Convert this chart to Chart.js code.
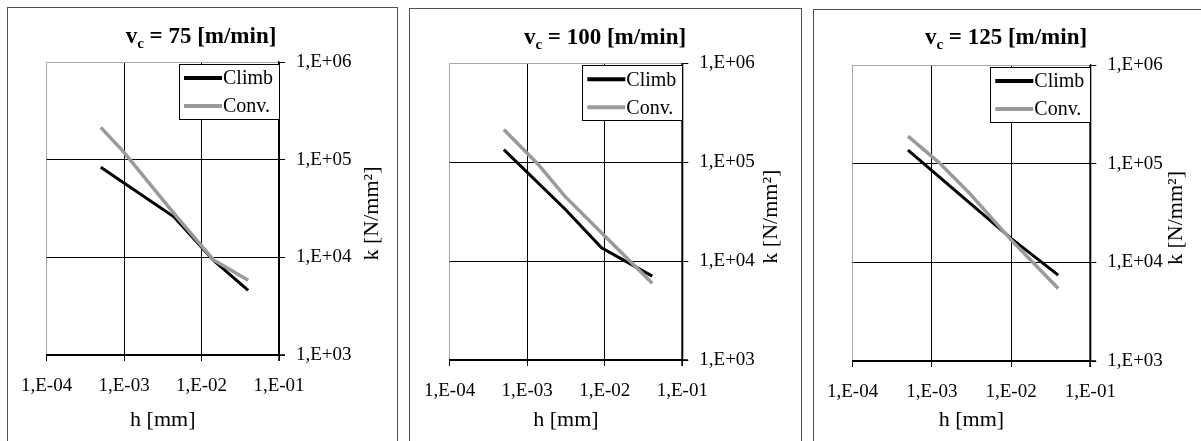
<!DOCTYPE html>
<html><head><meta charset="utf-8">
<script src="https://cdn.jsdelivr.net/npm/chart.js@4.4.1/dist/chart.umd.min.js"></script>
<style>
html,body{margin:0;padding:0;background:#fff;width:1201px;height:441px;overflow:hidden;position:relative}
.frame{position:absolute;border:1px solid #505050;box-sizing:border-box;}
.box{position:absolute;}
canvas{display:block}
</style></head><body>
<div class="frame" style="left:7px;top:7px;width:391px;height:460px"></div>
<div class="frame" style="left:409px;top:8px;width:393px;height:460px"></div>
<div class="frame" style="left:813px;top:9px;width:400px;height:460px"></div>
<div class="box" style="left:7px;top:7px;"><canvas id="c1" width="390" height="434"></canvas></div>
<div class="box" style="left:410px;top:8px;"><canvas id="c2" width="391" height="433"></canvas></div>
<div class="box" style="left:813px;top:9px;"><canvas id="c3" width="388" height="432"></canvas></div>
<script>
// ---- data ----
const xTickValues = [1e-4, 1e-3, 1e-2, 1e-1];
const xTickLabels = ['1,E-04', '1,E-03', '1,E-02', '1,E-01'];
const yTickValues = [1e3, 1e4, 1e5, 1e6];
const yTickLabels = ['1,E+03', '1,E+04', '1,E+05', '1,E+06'];
const seriesNames = ['Climb', 'Conv.'];
const speeds = ['75', '100', '125'];
const xTitle = 'h [mm]';
const yTitle = 'k [N/mm\u00B2]';

// v_c = 75 m/min
const hClimb75 = [0.0005, 0.00445, 0.0143, 0.040];
const kClimb75 = [83400, 25800, 9300, 4600];
const hConv75  = [0.0005, 0.0010, 0.00445, 0.0143, 0.040];
const kConv75  = [214000, 119000, 27900, 9400, 5820];
// v_c = 100 m/min
const hClimb100 = [0.0005, 0.00305, 0.0091, 0.041];
const kClimb100 = [134000, 33800, 13600, 7050];
const hConv100  = [0.0005, 0.00139, 0.00305, 0.010, 0.041];
const kConv100  = [214000, 94800, 45400, 17900, 5960];
// v_c = 125 m/min
const hClimb125 = [0.0005, 0.010, 0.0394];
const kClimb125 = [137000, 17500, 7430];
const hConv125  = [0.0005, 0.00124, 0.0030, 0.010, 0.0394];
const kConv125  = [190000, 102000, 50000, 16900, 5430];

// ---- layout ----
const FF = '"Liberation Serif", "Times New Roman", serif';
const geoms = [
  {id:'c1', w:390, h:434, left:35.7, right:272,   top:55,   bottom:348, titleX:194, titleY:36,   yTitleX:365},
  {id:'c2', w:391, h:433, left:35.7, right:272.3, top:55.3, bottom:352, titleX:195, titleY:35.5, yTitleX:361},
  {id:'c3', w:388, h:432, left:35.3, right:277.3, top:56,   bottom:352, titleX:193, titleY:34.5, yTitleX:363}
];

const panelPlugin = {
  id: 'panelDecor',
  afterDraw(chart, args, opts) {
    const ctx = chart.ctx, ca = chart.chartArea, g = opts.g;
    ctx.save();
    // right axis line (coincides with the 1,E-01 grid line) and bottom axis line
    const xs = chart.scales.x, ys = chart.scales.y;
    const xr = Math.round(xs.getPixelForValue(xTickValues[xTickValues.length - 1]));
    const yb = Math.round(ys.getPixelForValue(yTickValues[0]));
    const yt = Math.round(ys.getPixelForValue(yTickValues[yTickValues.length - 1]));
    ctx.strokeStyle = '#000'; ctx.lineWidth = 1.4;
    ctx.beginPath(); ctx.moveTo(xr, yt); ctx.lineTo(xr, yb + 6); ctx.stroke();
    ctx.beginPath(); ctx.moveTo(Math.round(ca.left), yb); ctx.lineTo(xr + 6, yb); ctx.stroke();

    ctx.fillStyle = '#000';
    // title with subscript
    const mainFont = 'bold 23px ' + FF, subFont = 'bold 15px ' + FF;
    const rest = ' = ' + opts.speed + ' [m/min]';
    ctx.font = mainFont; const wv = ctx.measureText('v').width; const wr = ctx.measureText(rest).width;
    ctx.font = subFont; const wc = ctx.measureText('c').width;
    let x0 = g.titleX - (wv + wc + wr) / 2;
    ctx.textBaseline = 'alphabetic'; ctx.textAlign = 'left';
    ctx.font = mainFont; ctx.fillText('v', x0, g.titleY);
    ctx.font = subFont; ctx.fillText('c', x0 + wv, g.titleY + 5);
    ctx.font = mainFont; ctx.fillText(rest, x0 + wv + wc, g.titleY);
    // y axis title, rotated
    ctx.save();
    ctx.translate(g.yTitleX, (ca.top + ca.bottom) / 2 + 5);
    ctx.rotate(-Math.PI / 2);
    ctx.font = '22px ' + FF; ctx.textAlign = 'center'; ctx.textBaseline = 'middle';
    ctx.fillText(yTitle, 0, 0);
    ctx.restore();
    // legend box
    const lw = 100, lh = 55, lx = ca.right - lw, ly = ca.top + 2;
    ctx.fillStyle = '#fff'; ctx.fillRect(lx, ly, lw, lh);
    ctx.strokeStyle = '#000'; ctx.lineWidth = 1;
    ctx.strokeRect(Math.round(lx) + 0.5, Math.round(ly) + 0.5, lw, lh);
    chart.data.datasets.forEach((ds, i) => {
      const yy = ly + 14 + i * 28;
      ctx.strokeStyle = ds.borderColor; ctx.lineWidth = 4; ctx.lineCap = 'butt';
      ctx.beginPath(); ctx.moveTo(lx + 5, yy); ctx.lineTo(lx + 43, yy); ctx.stroke();
      ctx.fillStyle = '#000'; ctx.font = '20px ' + FF; ctx.textAlign = 'left'; ctx.textBaseline = 'middle';
      ctx.fillText(ds.label, lx + 44, yy + 1);
    });
    ctx.restore();
  }
};

function toPts(h, k) { return h.map((x, i) => ({x: x, y: k[i]})); }

function makeChart(g, speed, hC, kC, hV, kV) {
  return new Chart(document.getElementById(g.id), {
    type: 'line',
    data: {datasets: [
      {label: seriesNames[0], data: toPts(hC, kC), borderColor: '#000000', borderWidth: 3, pointRadius: 0, tension: 0, order: 1},
      {label: seriesNames[1], data: toPts(hV, kV), borderColor: '#9a9a9a', borderWidth: 3.5, pointRadius: 0, tension: 0, order: 0}
    ]},
    options: {
      responsive: false, animation: false, events: [],
      layout: {padding: {left: g.left, top: g.top, right: 0, bottom: 0}},
      plugins: {legend: {display: false}, tooltip: {enabled: false}, title: {display: false},
                panelDecor: {g: g, speed: speed}},
      scales: {
        x: {
          type: 'logarithmic', position: 'bottom', min: 1e-4, max: 1e-1,
          afterBuildTicks: s => { s.ticks = xTickValues.map(v => ({value: v})); },
          afterFit: s => { s.height = g.h - g.bottom; },
          ticks: {autoSkip: false, maxRotation: 0, minRotation: 0, padding: 14, color: '#000',
                  font: {family: FF, size: 19},
                  callback: v => xTickLabels[xTickValues.indexOf(v)]},
          grid: {color: c => (c.tick && c.tick.value === 1e-4) ? '#a8a8a8' : '#000', lineWidth: 1,
                 tickLength: 6, tickColor: '#000', drawTicks: true},
          border: {color: '#000', width: 1.3},
          title: {display: true, text: xTitle, color: '#000', font: {family: FF, size: 22},
                  padding: {top: 0, bottom: 8}}
        },
        y: {
          type: 'logarithmic', position: 'right', min: 1e3, max: 1e6,
          afterBuildTicks: s => { s.ticks = yTickValues.map(v => ({value: v})); },
          afterFit: s => { s.width = g.w - g.right; },
          ticks: {autoSkip: false, padding: 11, color: '#000', font: {family: FF, size: 19},
                  callback: v => yTickLabels[yTickValues.indexOf(v)]},
          grid: {color: c => (c.tick && c.tick.value === 1e6) ? '#a8a8a8' : '#000', lineWidth: 1,
                 tickLength: 6, tickColor: '#000', drawTicks: true},
          border: {color: '#000', width: 1.3},
          title: {display: false}
        }
      }
    },
    plugins: [panelPlugin]
  });
}

makeChart(geoms[0], speeds[0], hClimb75, kClimb75, hConv75, kConv75);
makeChart(geoms[1], speeds[1], hClimb100, kClimb100, hConv100, kConv100);
makeChart(geoms[2], speeds[2], hClimb125, kClimb125, hConv125, kConv125);
</script>
</body></html>
